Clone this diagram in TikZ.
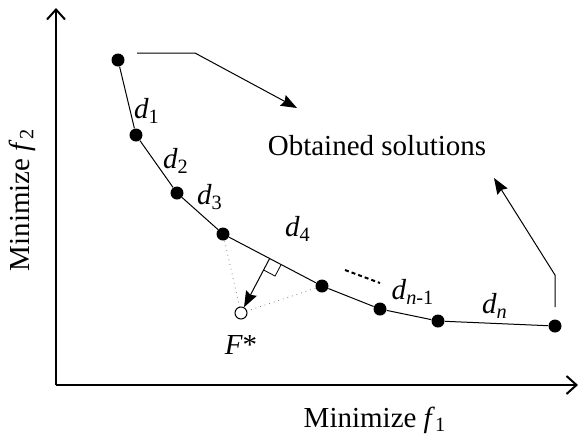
\documentclass[tikz,border=0pt]{standalone}
\usepackage{fontspec}
\setmainfont{Liberation Serif}
\usetikzlibrary{arrows.meta,calc}
\newcommand{\lbl}[2]{\textit{#1}\textsubscript{#2}}

\begin{document}
\begin{tikzpicture}[
    x=0.5pt, y=-0.5pt,
    >={Stealth[length=8pt,width=6pt,inset=1pt]},
    font=\fontsize{14.5}{17}\selectfont,
    dot/.style={circle, fill=black, inner sep=0pt, minimum size=6.5pt},
    optdot/.style={circle, draw=black, fill=white, line width=0.5pt, inner sep=0pt, minimum size=6pt},
    axis/.style={line width=1pt, -{Straight Barb[length=5pt,width=9pt]}},
    front/.style={line width=0.5pt},
    guide/.style={dotted, line width=0.4pt, gray},
]
\useasboundingbox (0,0) rectangle (580,441);

% axes
\coordinate (o) at (56,385);
\draw[axis] (o) -- (56,8);
\draw[axis] (o) -- (578,385);
\node[rotate=90] (ylab) at (22,200) {Minimize \textit{f}\textsubscript{2}};
\node (xlab) at (375,420) {Minimize \textit{f}\textsubscript{1}};

% solutions
\node[dot] (p1) at (118,60) {};
\node[dot] (p2) at (136,135) {};
\node[dot] (p3) at (177,193) {};
\node[dot] (p4) at (223,234) {};
\node[dot] (p5) at (322,286) {};
\node[dot] (p6) at (380,309) {};
\node[dot] (p7) at (438,321) {};
\node[dot] (p8) at (555,326) {};
\draw[front] (p1) -- (p2) -- (p3) -- (p4) -- (p5) -- (p6) -- (p7) -- (p8);

% ideal point
\node[optdot] (fstar) at (241,313) {};
\node (fl) at (241,345) {\textit{F}*};
\draw[guide] (p4) -- (fstar);
\draw[guide] (p5) -- (fstar);
\coordinate (foot) at ($(p4)!(fstar)!(p5)$);
\draw[front, ->] (foot) -- (fstar);
\draw[line width=0.4pt] ($(foot)!6.5pt!(p5)$) -- ($(foot)!6.5pt!(p5)!6.5pt!90:(foot)$) -- ($(foot)!6.5pt!(fstar)$);

% distances
\node (d1) at (147,111) {\lbl{d}{1}};
\node (d2) at (176,161) {\lbl{d}{2}};
\node (d3) at (210,197) {\lbl{d}{3}};
\node (d4) at (298,229) {\lbl{d}{4}};
\node (dn1) at (413,292) {\lbl{d}{\textit{n}-1}};
\node (dn) at (495,306) {\lbl{d}{\textit{n}}};
\draw[line width=1pt, dash pattern=on 2pt off 1.5pt] (345,270) -- (380,283);

% annotation
\node (obt) at (377,146) {Obtained solutions};
\coordinate (a1) at (137,53);
\coordinate (a2) at (195,53);
\coordinate (a3) at (297,108);
\draw[front, ->] (a1) -- (a2) -- (a3);
\coordinate (b1) at (555,307);
\coordinate (b2) at (555,275);
\coordinate (b3) at (494,178);
\draw[front, ->] (b1) -- (b2) -- (b3);
\end{tikzpicture}
\end{document}
